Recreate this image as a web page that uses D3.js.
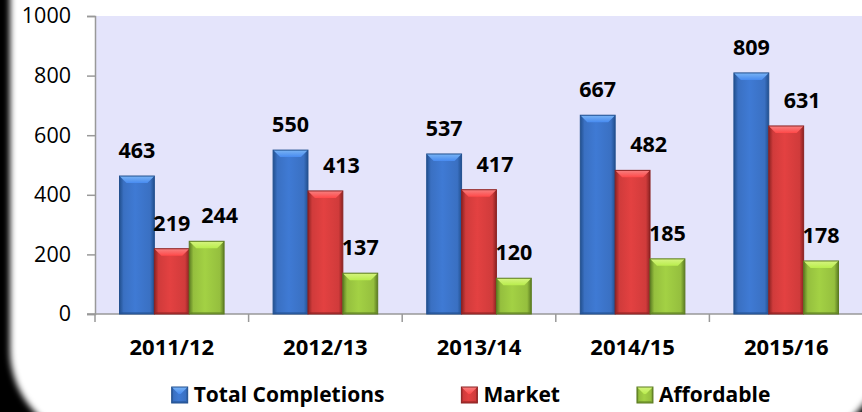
<!DOCTYPE html>
<html>
<head>
<meta charset="utf-8">
<script src="https://cdn.jsdelivr.net/npm/d3@7"></script>
<style>
  html, body { margin: 0; padding: 0; background: #000; }
  svg { display: block; }
  text { font-family: "Open Sans", Lato, "Liberation Sans", sans-serif; }
</style>
</head>
<body>
<svg id="chart"></svg>
<script>
var years = ["2011/12", "2012/13", "2013/14", "2014/15", "2015/16"];
var seriesNames = ["Total Completions", "Market", "Affordable"];
var totalVals = [463, 550, 537, 667, 809];
var marketVals = [219, 413, 417, 482, 631];
var affordVals = [244, 137, 120, 185, 178];
var yTicks = [0, 200, 400, 600, 800, 1000];

var COLORS = [
  { base: "#3a70c2", light: "#7ab4f4", dark: "#22508f" },
  { base: "#d03b3b", light: "#f68080", dark: "#8c2222" },
  { base: "#95bf3e", light: "#d6f480", dark: "#5c7c22" }
];

var W = 862, H = 412;
var svg = d3.select("#chart").attr("width", W).attr("height", H);
var defs = svg.append("defs");

// frame: black page with a blurred, rounded white card on top
defs.append("filter").attr("id", "soft")
  .attr("x", "-10%").attr("y", "-10%").attr("width", "120%").attr("height", "120%")
  .append("feGaussianBlur").attr("stdDeviation", 3);
svg.append("rect").attr("width", W).attr("height", H).attr("fill", "#000");
svg.append("rect")
  .attr("x", 10).attr("y", -100).attr("width", 872).attr("height", 540)
  .attr("rx", 90).attr("ry", 90)
  .attr("fill", "#fff").attr("filter", "url(#soft)");

// gradients for the bevelled bars
COLORS.forEach(function(c, i) {
  var g = defs.append("linearGradient").attr("id", "body" + i)
    .attr("x1", 0).attr("x2", 1).attr("y1", 0).attr("y2", 0);
  g.append("stop").attr("offset", "0%").attr("stop-color", c.dark);
  g.append("stop").attr("offset", "12%").attr("stop-color", c.base);
  g.append("stop").attr("offset", "45%").attr("stop-color", d3.color(c.base).brighter(0.25));
  g.append("stop").attr("offset", "88%").attr("stop-color", c.base);
  g.append("stop").attr("offset", "100%").attr("stop-color", c.dark);
  var t = defs.append("linearGradient").attr("id", "top" + i)
    .attr("x1", 0).attr("x2", 0).attr("y1", 0).attr("y2", 1);
  t.append("stop").attr("offset", "0%").attr("stop-color", c.light);
  t.append("stop").attr("offset", "100%").attr("stop-color", d3.color(c.base).brighter(0.6));
});

var margin = { left: 95, top: 16, right: -1, bottom: 98 };
var plotW = W - margin.left - margin.right;
var plotH = H - margin.top - margin.bottom;

var x0 = d3.scaleBand().domain(years).range([0, plotW]).paddingInner(0).paddingOuter(0);
var x1 = d3.scaleBand().domain(seriesNames).range([24.5, x0.bandwidth() - 24.5]).padding(0);
var y = d3.scaleLinear().domain([0, 1000]).range([plotH, 0]);

var g = svg.append("g").attr("transform", "translate(" + margin.left + "," + margin.top + ")");

g.append("rect").attr("width", plotW).attr("height", plotH).attr("fill", "#e4e4fb");

// y axis
var yAxis = g.append("g").call(d3.axisLeft(y).tickValues(yTicks).tickFormat(d3.format("d"))
  .tickSize(8).tickPadding(16));
yAxis.select(".domain").attr("stroke", "#999").attr("stroke-width", 1.5);
yAxis.selectAll(".tick line").attr("stroke", "#999").attr("stroke-width", 1.5);
yAxis.selectAll(".tick text").attr("font-size", 21.5).attr("fill", "#000")
  .style("font-family", "'Open Sans', Lato, sans-serif");

// x axis: ticks between categories
var xAxis = g.append("g").attr("transform", "translate(0," + plotH + ")");
xAxis.append("line").attr("x1", -8).attr("x2", plotW).attr("stroke", "#999").attr("stroke-width", 1.5);
xAxis.selectAll("line.tk").data(years).enter().append("line").attr("class", "tk")
  .attr("x1", function(d) { return x0(d); }).attr("x2", function(d) { return x0(d); })
  .attr("y1", 0).attr("y2", 8).attr("stroke", "#999").attr("stroke-width", 1.5);
xAxis.selectAll("text").data(years).enter().append("text")
  .attr("x", function(d) { return x0(d) + x0.bandwidth() / 2; })
  .attr("y", 41).attr("text-anchor", "middle")
  .attr("font-size", 22).attr("font-weight", "bold").text(function(d) { return d; });

var table = years.map(function(yr, i) {
  return { year: yr, vals: [totalVals[i], marketVals[i], affordVals[i]] };
});

function bevelBar(sel, x, yTop, w, h, ci) {
  var b = Math.min(7, h / 2);
  sel.append("rect").attr("x", x).attr("y", yTop).attr("width", w).attr("height", h)
    .attr("fill", "url(#body" + ci + ")");
  sel.append("path")
    .attr("d", "M" + x + "," + yTop + "H" + (x + w) + "L" + (x + w - b) + "," + (yTop + b) +
      "H" + (x + b) + "Z")
    .attr("fill", "url(#top" + ci + ")");
  sel.append("path")
    .attr("d", "M" + x + "," + (yTop + h) + "H" + (x + w) + "L" + (x + w - 2) + "," + (yTop + h - 2) +
      "H" + (x + 2) + "Z")
    .attr("fill", COLORS[ci].dark).attr("opacity", 0.5);
  sel.append("rect").attr("x", x).attr("y", yTop).attr("width", w).attr("height", h)
    .attr("fill", "none").attr("stroke", COLORS[ci].dark).attr("stroke-width", 1);
}

function overlaps(a, b) {
  return a.x < b.x + b.width && a.x + a.width > b.x &&
    a.y < b.y + b.height && a.y + a.height > b.y;
}

var groups = g.selectAll("g.grp").data(table).enter().append("g").attr("class", "grp")
  .attr("transform", function(d) { return "translate(" + x0(d.year) + ",0)"; });

groups.each(function(d) {
  var grp = d3.select(this);
  var bw = x1.bandwidth();
  var labels = [];
  d.vals.forEach(function(v, si) {
    var bx = x1(seriesNames[si]);
    bevelBar(grp.append("g"), bx, y(v), bw, plotH - y(v), si);
    labels.push(grp.append("text")
      .attr("x", bx + bw / 2).attr("y", y(v) - 18)
      .attr("text-anchor", "middle").attr("font-size", 21.5).attr("font-weight", "bold")
      .text(v));
  });
  // nudge labels apart: if the last two labels clash, move the last one right,
  // otherwise push the middle label clear of the taller bar to its left
  var mid = labels[1].node().getBBox();
  var last = labels[2].node().getBBox();
  if (overlaps(mid, last)) {
    labels[2].attr("x", +labels[2].attr("x") + (mid.x + mid.width + 11 - last.x));
  } else if (d.vals[0] > d.vals[1] && mid.x < x1(seriesNames[0]) + bw + 2) {
    labels[1].attr("x", +labels[1].attr("x") + (x1(seriesNames[0]) + bw + 15 - mid.x));
  }
});

// legend
var legend = svg.append("g");
var cursor = 0;
seriesNames.forEach(function(name, i) {
  var item = legend.append("g").attr("transform", "translate(" + cursor + ",0)");
  bevelBar(item.append("g"), 0, -15, 16, 16, i);
  var t = item.append("text").attr("x", 22).attr("y", 0)
    .attr("font-size", 21).attr("font-weight", "bold").text(name);
  cursor += 22 + t.node().getComputedTextLength() + 77;
});
var legendW = cursor - 77;
legend.attr("transform", "translate(" + (471 - legendW / 2) + ",402)");
</script>
</body>
</html>
